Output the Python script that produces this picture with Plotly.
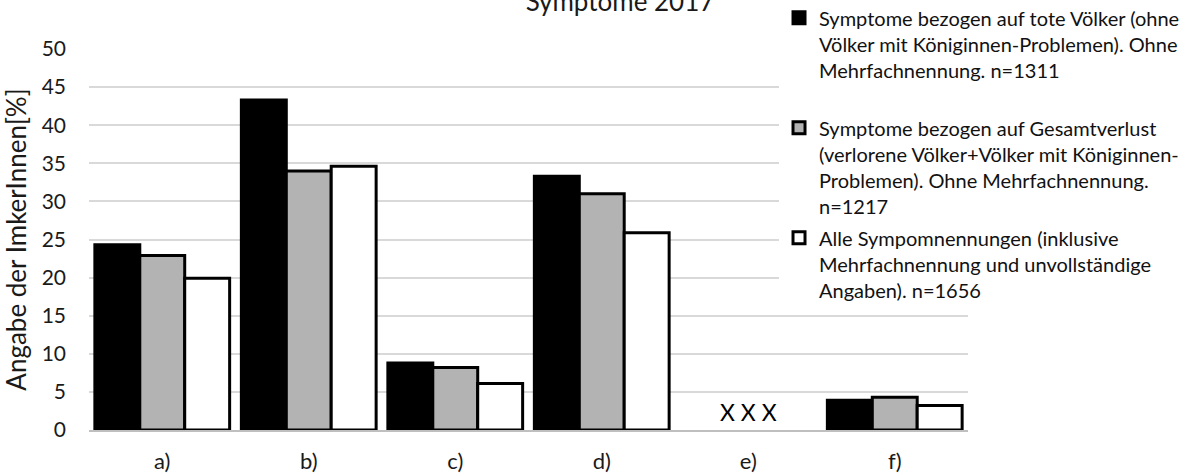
import plotly.graph_objects as go

categories = ["a)", "b)", "c)", "d)", "e)", "f)"]
tote_voelker = [24.3, 43.3, 8.8, 33.3, None, 3.9]
gesamtverlust = [22.9, 34.0, 8.2, 31.0, None, 4.3]
alle_nennungen = [19.9, 34.6, 6.1, 25.9, None, 3.2]

names = [
    "Symptome bezogen auf tote Völker (ohne<br>Völker mit Königinnen-Problemen). Ohne<br>Mehrfachnennung. n=1311<br> ",
    "Symptome bezogen auf Gesamtverlust<br>(verlorene Völker+Völker mit Königinnen-<br>Problemen). Ohne Mehrfachnennung.<br>n=1217",
    "Alle Sympomnennungen (inklusive<br>Mehrfachnennung und unvollständige<br>Angaben). n=1656",
]
series = [tote_voelker, gesamtverlust, alle_nennungen]
colors = ["#000000", "#b3b3b3", "#ffffff"]

FONT = "Lato"
TXT = "#1a1a1a"

fig = go.Figure()
for i, (nm, vals, col) in enumerate(zip(names, series, colors)):
    fig.add_trace(go.Bar(
        x=categories, y=vals, name=nm,
        marker=dict(color=col, line=dict(color="#000000", width=3)),
        legendgroup=str(i),
    ))

fig.add_annotation(x="e)", y=0, text="X X X", showarrow=False,
                   yanchor="bottom", yshift=2,
                   font=dict(family=FONT, size=23, color="#000000"))

fig.update_layout(
    width=1181, height=473,
    margin=dict(l=89, r=213, t=49, b=43, autoexpand=False),
    paper_bgcolor="white", plot_bgcolor="white",
    barmode="group", bargap=0.08, bargroupgap=0,
    font=dict(family=FONT, color=TXT),
    title=dict(text="Symptome 2017", xref="container", x=0.525, xanchor="center",
               yref="container", y=0.995, yanchor="middle",
               font=dict(family=FONT, size=26, color=TXT)),
    showlegend=True,
    legend=dict(x=0.785, xanchor="left", y=1.133, yanchor="top",
                bgcolor="white", valign="top", tracegroupgap=3, maxheight=420,
                font=dict(family=FONT, size=20, color="#111111")),
    xaxis=dict(showgrid=False, showline=True, linecolor="#bfbfbf", linewidth=1.5,
               ticks="", ticklabelstandoff=11,
               tickfont=dict(family=FONT, size=22, color=TXT)),
    yaxis=dict(range=[0, 50], dtick=5, showgrid=True, gridcolor="#d9d9d9", gridwidth=1.5,
               zeroline=False, showline=False, ticks="", ticklabelstandoff=22,
               tickfont=dict(family=FONT, size=21, color=TXT),
               title=dict(text="Angabe der ImkerInnen[%]", standoff=12,
                          font=dict(family=FONT, size=26, color=TXT))),
)

fig.write_html("out.html")
